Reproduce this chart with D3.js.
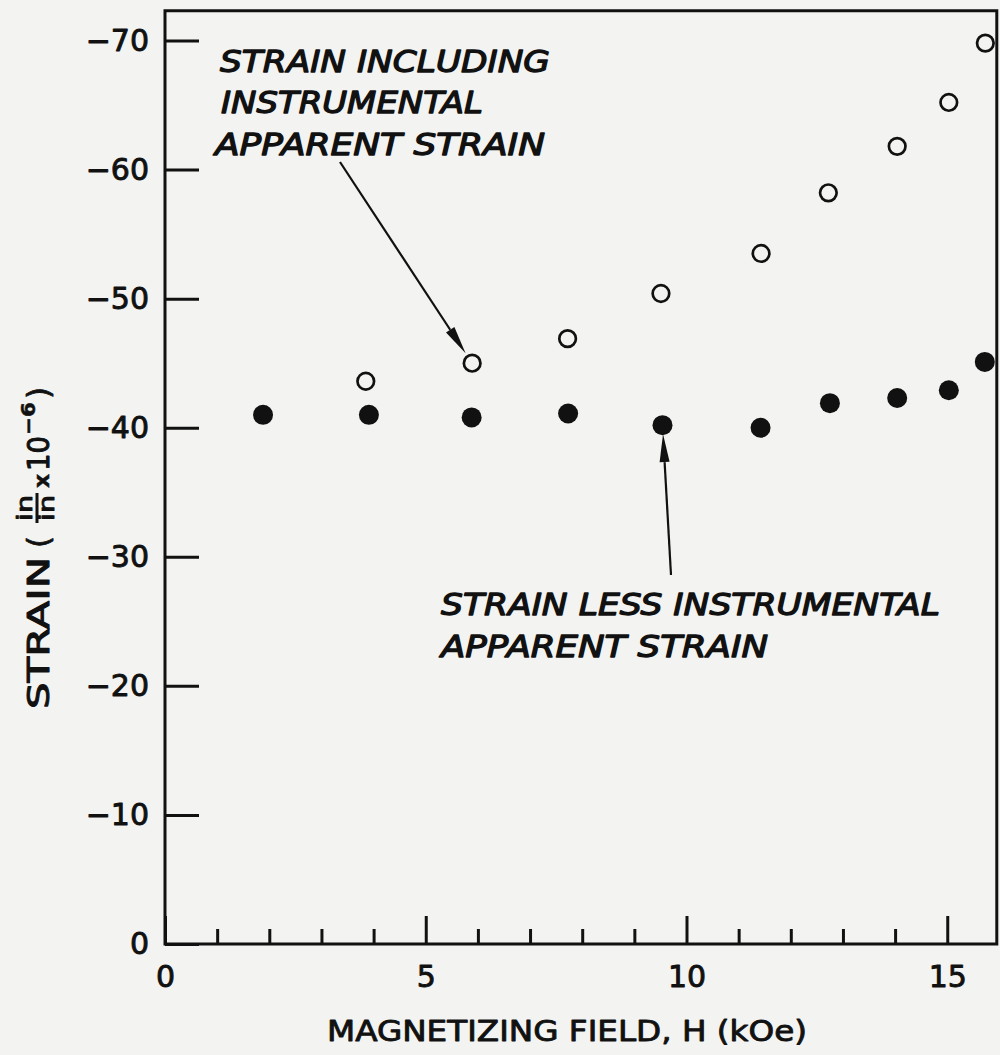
<!DOCTYPE html>
<html>
<head>
<meta charset="utf-8">
<script src="https://cdn.jsdelivr.net/npm/d3@7"></script>
<style>
  html, body { margin: 0; padding: 0; background: #f3f3f1; }
  svg { display: block; }
</style>
</head>
<body>
<svg id="chart" width="1000" height="1055"></svg>
<script>
// ---------------- data ----------------
const fieldIncluding  = [3.85, 5.89, 7.72, 9.51, 11.43, 12.72, 14.04, 15.03, 15.73];
const strainIncluding = [-43.6, -45.0, -46.9, -50.4, -53.5, -58.2, -61.8, -65.2, -69.8];
const fieldLess  = [1.88, 3.91, 5.88, 7.73, 9.54, 11.42, 12.75, 14.04, 15.03, 15.72];
const strainLess = [-41.0, -41.0, -40.8, -41.1, -40.2, -40.0, -41.9, -42.3, -42.9, -45.1];
const yTicks = [0, -10, -20, -30, -40, -50, -60, -70];
const xMajorTicks = [0, 5, 10, 15];
const xMinorTicks = [1, 2, 3, 4, 6, 7, 8, 9, 11, 12, 13, 14];
const labelIncluding = ["STRAIN INCLUDING", "INSTRUMENTAL", "APPARENT STRAIN"];
const labelLess = ["STRAIN LESS INSTRUMENTAL", "APPARENT STRAIN"];
const xTitle = "MAGNETIZING FIELD, H (kOe)";

// ---------------- setup ----------------
const ink = "#111";
const svg = d3.select("#chart");
const x = d3.scaleLinear().domain([0, 16]).range([165, 999.4]);
const y = d3.scaleLinear().domain([0, -70]).range([944, 40.5]);
const yTop = -72.3;
const font = "'DejaVu Sans', sans-serif";

function heavy(sel, w) {
  return sel.attr("stroke", ink).attr("stroke-width", w).attr("stroke-linejoin", "round");
}

// frame
svg.append("path")
  .attr("d", `M${x(0)},${y(0)} L${x(0)},${y(yTop)} L${x(15.95)},${y(yTop)} L${x(15.95)},${y(0)} Z`)
  .attr("fill", "none").attr("stroke", ink).attr("stroke-width", 3);

// y axis
const yAxis = d3.axisLeft(y).tickValues(yTicks).tickSize(-34).tickSizeOuter(0).tickPadding(16)
  .tickFormat(d => d === 0 ? "0" : "\u2212" + Math.abs(d));
const gy = svg.append("g").attr("transform", `translate(${x(0)},0)`).call(yAxis);
gy.select(".domain").remove();
gy.selectAll(".tick line").attr("stroke", ink).attr("stroke-width", 3);
heavy(gy.selectAll(".tick text").attr("fill", ink).style("font-family", font).style("font-size", "30px"), 0.9);

// x axis minor
const xMinor = d3.axisBottom(x).tickValues(xMinorTicks).tickSize(-15).tickSizeOuter(0).tickFormat("");
const gxm = svg.append("g").attr("transform", `translate(0,${y(0)})`).call(xMinor);
gxm.select(".domain").remove();
gxm.selectAll(".tick line").attr("stroke", ink).attr("stroke-width", 3);
// x axis major
const xMajor = d3.axisBottom(x).tickValues(xMajorTicks).tickSize(-28).tickSizeOuter(0).tickPadding(22)
  .tickFormat(d => String(d));
const gx = svg.append("g").attr("transform", `translate(0,${y(0)})`).call(xMajor);
gx.select(".domain").remove();
gx.selectAll(".tick line").attr("stroke", ink).attr("stroke-width", 3);
heavy(gx.selectAll(".tick text").attr("fill", ink).style("font-family", font).style("font-size", "30px"), 0.9);

// x title
heavy(svg.append("text").attr("x", 327).attr("y", 1041)
  .attr("textLength", 480).attr("lengthAdjust", "spacingAndGlyphs")
  .style("font-family", font).style("font-size", "29px").attr("fill", ink)
  .text(xTitle), 0.9);

// y title (rotated)
const gt = svg.append("g").attr("transform", "translate(49,709) rotate(-90)")
  .style("font-family", font).attr("fill", ink);
heavy(gt.append("text").attr("x", 0).attr("y", 0).attr("textLength", 152).attr("lengthAdjust", "spacingAndGlyphs")
  .style("font-size", "31px").text("STRAIN"), 1);
heavy(gt.append("text").attr("x", 161).attr("y", 0).style("font-size", "31px").text("("), 0.8);
heavy(gt.append("text").attr("x", 201).attr("y", -17).attr("text-anchor", "middle")
  .attr("textLength", 26).attr("lengthAdjust", "spacingAndGlyphs")
  .style("font-size", "22px").text("in"), 0.9);
gt.append("line").attr("x1", 186).attr("x2", 216).attr("y1", -12).attr("y2", -12)
  .attr("stroke", ink).attr("stroke-width", 3);
heavy(gt.append("text").attr("x", 201).attr("y", 5).attr("text-anchor", "middle")
  .attr("textLength", 26).attr("lengthAdjust", "spacingAndGlyphs")
  .style("font-size", "22px").text("in"), 0.9);
heavy(gt.append("text").attr("x", 221).attr("y", 0).style("font-size", "22px").style("font-weight", "bold").text("x"), 0.5);
heavy(gt.append("text").attr("x", 238).attr("y", 0).attr("textLength", 35).attr("lengthAdjust", "spacingAndGlyphs")
  .style("font-size", "31px").text("10"), 1);
heavy(gt.append("text").attr("x", 274).attr("y", -14).attr("textLength", 33).attr("lengthAdjust", "spacingAndGlyphs")
  .style("font-size", "20px").style("font-weight", "bold").text("\u22126"), 0.5);
heavy(gt.append("text").attr("x", 310).attr("y", 0).style("font-size", "31px").text(")"), 0.8);

// ---------------- points ----------------
const dataLess = fieldLess.map((h, i) => ({ h, s: strainLess[i] }));
const dataIncl = fieldIncluding.map((h, i) => ({ h, s: strainIncluding[i] }));

svg.append("g").selectAll("circle").data(dataLess).join("circle")
  .attr("cx", d => x(d.h)).attr("cy", d => y(d.s)).attr("r", 10).attr("fill", ink);
svg.append("g").selectAll("circle").data(dataIncl).join("circle")
  .attr("cx", d => x(d.h)).attr("cy", d => y(d.s)).attr("r", 8.3)
  .attr("fill", "none").attr("stroke", ink).attr("stroke-width", 2.7);

// ---------------- annotations ----------------
function label(lines, x0s, baselines, lengths) {
  lines.forEach((t, i) => {
    heavy(svg.append("text").attr("x", x0s[i]).attr("y", baselines[i])
      .attr("textLength", lengths[i]).attr("lengthAdjust", "spacingAndGlyphs")
      .style("font-family", font).style("font-style", "oblique")
      .style("font-size", "30px").attr("fill", ink).text(t), 1.3);
  });
}
label(labelIncluding, [220, 221, 215], [72, 113, 155], [330, 262, 330]);
label(labelLess, [441, 441], [615, 657], [499, 327]);

function arrow(x1, y1, target, gap) {
  const px = x(target.h), py = y(target.s);
  const dx = px - x1, dy = py - y1, L = Math.hypot(dx, dy);
  const ux = dx / L, uy = dy / L;
  const tx = px - ux * gap, ty = py - uy * gap;
  const hl = 28, hw = 5;
  const bx = tx - ux * hl, by = ty - uy * hl;
  svg.append("line").attr("x1", x1).attr("y1", y1).attr("x2", bx).attr("y2", by)
    .attr("stroke", ink).attr("stroke-width", 2.2);
  svg.append("path")
    .attr("d", `M${tx},${ty} L${bx - uy * hw},${by + ux * hw} L${bx + uy * hw},${by - ux * hw} Z`)
    .attr("fill", ink);
}
arrow(340, 162, dataIncl[1], 12);
arrow(671, 575, dataLess[4], 9);
</script>
</body>
</html>
